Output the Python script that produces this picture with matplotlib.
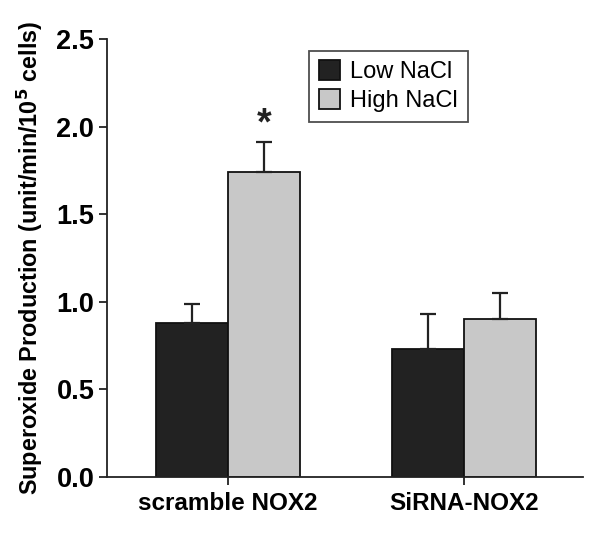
import numpy as np
import matplotlib.pyplot as plt

plt.rcParams['font.family'] = ['Liberation Sans', 'DejaVu Sans']

# Données
groupes = ['scramble NOX2', 'SiRNA-NOX2']
series = ['Low NaCl', 'High NaCl']
low_nacl = np.array([0.88, 0.73])
low_err = np.array([0.11, 0.20])
high_nacl = np.array([1.74, 0.90])
high_err = np.array([0.17, 0.15])
etoiles = ['*', '']

fig = plt.figure(figsize=(6.0, 5.37), dpi=100)
ax = fig.add_axes([0.178, 0.112, 0.794, 0.815])

x = np.arange(len(groupes))
w = 0.305
err_kw = dict(ecolor='#222222', elinewidth=1.6, capsize=6, capthick=1.6)

ax.bar(x - w/2, low_nacl, w, yerr=[np.zeros_like(low_err), low_err],
       color='#222222', edgecolor='#111111', linewidth=1.3, label=series[0],
       error_kw=err_kw)
ax.bar(x + w/2, high_nacl, w, yerr=[np.zeros_like(high_err), high_err],
       color='#c8c8c8', edgecolor='#111111', linewidth=1.3, label=series[1],
       error_kw=err_kw)

# astérisque de significativité
for i, s in enumerate(etoiles):
    if s:
        ax.text(x[i] + w/2, high_nacl[i] + high_err[i] + 0.0, s,
                ha='center', va='bottom', fontsize=27, fontweight='bold',
                color='#222222')

ax.set_xlim(-0.513, 1.504)
ax.set_ylim(0, 2.5)
ax.set_yticks(np.arange(0, 2.51, 0.5))
ax.set_yticklabels([f'{v:.1f}' for v in np.arange(0, 2.51, 0.5)],
                   fontsize=19.5, fontweight='bold')
ax.set_xticks(x)
ax.set_xticklabels(groupes, fontsize=17.5, fontweight='bold')
ax.set_ylabel('Superoxide Production (unit/min/10$^{\\mathbf{5}}$ cells)',
              fontsize=16.8, fontweight='bold', labelpad=8)

for side in ['top', 'right']:
    ax.spines[side].set_visible(False)
for side in ['left', 'bottom']:
    ax.spines[side].set_linewidth(1.3)
    ax.spines[side].set_color('#222222')
ax.tick_params(axis='both', direction='out', length=6, width=1.3, color='#222222')
ax.tick_params(axis='y', pad=3)
ax.tick_params(axis='x', pad=5)

leg = ax.legend(loc='upper left', bbox_to_anchor=(0.40, 1.0), fontsize=17,
                frameon=True, fancybox=False, edgecolor='#222222',
                handlelength=0.9, handleheight=0.9, handletextpad=0.45,
                borderpad=0.4, labelspacing=0.25, borderaxespad=0.5)
leg.get_frame().set_linewidth(1.3)

fig.savefig('out.png', dpi=100)
